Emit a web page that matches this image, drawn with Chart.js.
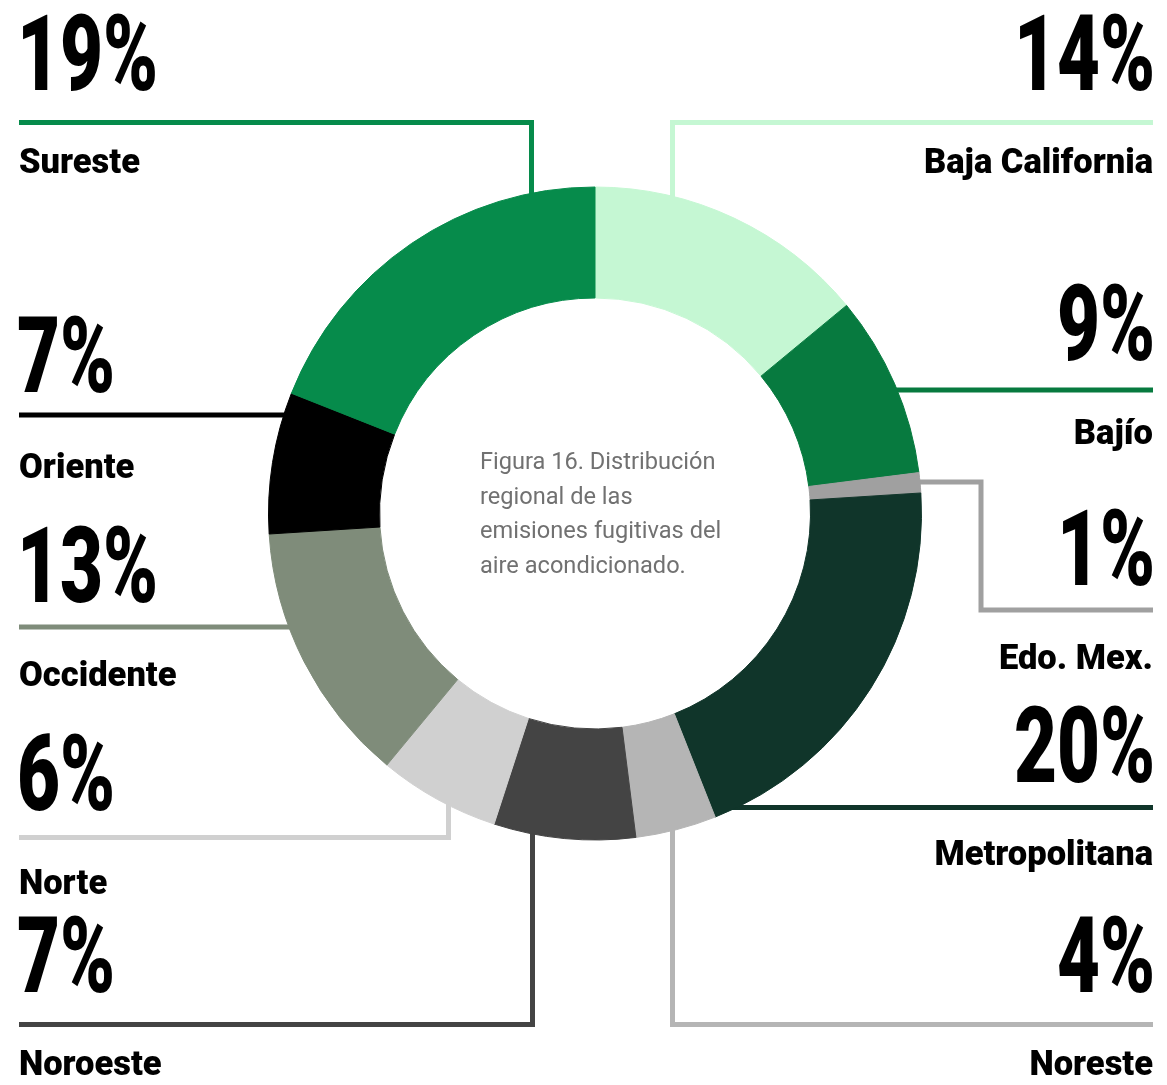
<!DOCTYPE html>
<html lang="es">
<head>
<meta charset="utf-8">
<title>Distribución regional de las emisiones fugitivas del aire acondicionado</title>
<script src="https://cdn.jsdelivr.net/npm/chart.js@4.4.1/dist/chart.umd.min.js"></script>
<style>
  html, body { margin: 0; padding: 0; background: #ffffff; }
  #wrap { width: 1167px; height: 1085px; position: relative; }
</style>
</head>
<body>
<div id="wrap"><canvas id="chart" width="1167" height="1085"></canvas></div>
<script>
// Regions, clockwise from 12 o'clock
const regions = ['Baja California', 'Bajío', 'Edo. Mex.', 'Metropolitana', 'Noreste',
                 'Noroeste', 'Norte', 'Occidente', 'Oriente', 'Sureste'];
// Share of fugitive emissions (%)
const shares = [14, 9, 1, 20, 4, 7, 6, 13, 7, 19];
// Segment colours
const palette = ['#c5f7d3', '#077a3f', '#a0a0a0', '#10352a', '#b5b5b5',
                 '#444444', '#d0d0d0', '#7f8c7a', '#000000', '#068b4b'];
// Caption in the hole of the ring
const captionLines = ['Figura 16. Distribución', 'regional de las',
                      'emisiones fugitivas del', 'aire acondicionado.'];

// Callout layout: side, baselines of the number and the name,
// and the leader polyline (ends with a run into the ring).
const callouts = [
  { side: 'right', numY: 90,  nameY: 173,  pts: [[1153, 122.5], [672.5, 122.5]], end: 'v' },
  { side: 'right', numY: 360, nameY: 444,  pts: [[1153, 390]], end: 'h' },
  { side: 'right', numY: 585, nameY: 669,  pts: [[1153, 610], [981, 610], [981, 482]], end: 'h' },
  { side: 'right', numY: 782, nameY: 865,  pts: [[1153, 807.5]], end: 'h' },
  { side: 'right', numY: 992, nameY: 1075, pts: [[1153, 1024.5], [672.5, 1024.5]], end: 'v' },
  { side: 'left',  numY: 992, nameY: 1075, pts: [[19, 1024.5], [532.5, 1024.5]], end: 'v' },
  { side: 'left',  numY: 810, nameY: 894,  pts: [[19, 837.5], [448.5, 837.5]], end: 'v' },
  { side: 'left',  numY: 602, nameY: 686,  pts: [[19, 627]], end: 'h' },
  { side: 'left',  numY: 392, nameY: 478,  pts: [[19, 415]], end: 'h' },
  { side: 'left',  numY: 90,  nameY: 173,  pts: [[19, 122.5], [531.5, 122.5]], end: 'v' }
];

const LEFT_X = 19, RIGHT_X = 1153;

// Leader lines sit under the ring; they stop inside the coloured band.
const leaderPlugin = {
  id: 'leaders',
  beforeDatasetsDraw(chart) {
    const ctx = chart.ctx;
    const arcs = chart.getDatasetMeta(0).data;
    ctx.save();
    ctx.lineWidth = 5;
    ctx.lineJoin = 'miter';
    ctx.lineCap = 'butt';
    callouts.forEach((c, i) => {
      const arc = arcs[i];
      const cx = arc.x, cy = arc.y;
      const ro = arc.outerRadius, ri = arc.innerRadius, rm = (ro + ri) / 2;
      const last = c.pts[c.pts.length - 1];
      let endPt;
      if (c.end === 'h') {
        const dy = last[1] - cy;
        const s = last[0] > cx ? 1 : -1;
        const dx = Math.abs(dy) < rm ? Math.sqrt(rm * rm - dy * dy)
                                     : Math.sqrt(ro * ro - dy * dy) * 0.5;
        endPt = [cx + s * dx, last[1]];
      } else {
        const dx = last[0] - cx;
        const s = last[1] > cy ? 1 : -1;
        const dy = Math.abs(dx) < rm ? Math.sqrt(rm * rm - dx * dx)
                                     : Math.sqrt(ro * ro - dx * dx) * 0.5;
        endPt = [last[0], cy + s * dy];
      }
      ctx.strokeStyle = palette[i];
      ctx.beginPath();
      ctx.moveTo(c.pts[0][0], c.pts[0][1]);
      for (let k = 1; k < c.pts.length; k++) ctx.lineTo(c.pts[k][0], c.pts[k][1]);
      ctx.lineTo(endPt[0], endPt[1]);
      ctx.stroke();
    });
    ctx.restore();
  },
  afterDatasetsDraw(chart) {
    const ctx = chart.ctx;
    ctx.save();
    // Condensed-looking figures: Roboto squeezed horizontally
    const NUM_SCALE = 0.7;
    callouts.forEach((c, i) => {
      const txt = shares[i] + '%';
      ctx.fillStyle = '#000000';
      ctx.font = '900 106px Roboto';
      ctx.textBaseline = 'alphabetic';
      ctx.save();
      if (c.side === 'left') {
        ctx.translate(LEFT_X - 2, c.numY);
        ctx.scale(NUM_SCALE, 1);
        ctx.textAlign = 'left';
      } else {
        ctx.translate(RIGHT_X + 2, c.numY);
        ctx.scale(NUM_SCALE, 1);
        ctx.textAlign = 'right';
      }
      ctx.fillText(txt, 0, 0);
      ctx.restore();

      ctx.font = '900 34.5px Roboto';
      ctx.textAlign = c.side === 'left' ? 'left' : 'right';
      ctx.fillText(regions[i], c.side === 'left' ? LEFT_X : RIGHT_X, c.nameY);
    });

    // Caption inside the hole
    const arc = chart.getDatasetMeta(0).data[0];
    ctx.fillStyle = '#717171';
    ctx.font = '400 23.6px Roboto';
    ctx.textAlign = 'left';
    captionLines.forEach((line, k) => {
      ctx.fillText(line, arc.x - 115, 469 + k * 34.6);
    });
    ctx.restore();
  }
};

function draw() {
  new Chart(document.getElementById('chart'), {
    type: 'doughnut',
    data: {
      labels: regions,
      datasets: [{
        data: shares,
        backgroundColor: palette,
        borderColor: palette,
        borderWidth: 1,
        hoverOffset: 0
      }]
    },
    options: {
      responsive: false,
      animation: false,
      radius: 326.5,
      cutout: '66%',
      rotation: 0,
      layout: { padding: { left: 23, right: 0, top: 0, bottom: 58 } },
      plugins: {
        legend: { display: false },
        tooltip: { enabled: false }
      },
      events: []
    },
    plugins: [leaderPlugin]
  });
}

if (document.fonts && document.fonts.load) {
  Promise.all([
    document.fonts.load('900 106px Roboto'),
    document.fonts.load('900 34px Roboto'),
    document.fonts.load('400 23px Roboto')
  ]).then(draw, draw);
} else {
  draw();
}
</script>
</body>
</html>
